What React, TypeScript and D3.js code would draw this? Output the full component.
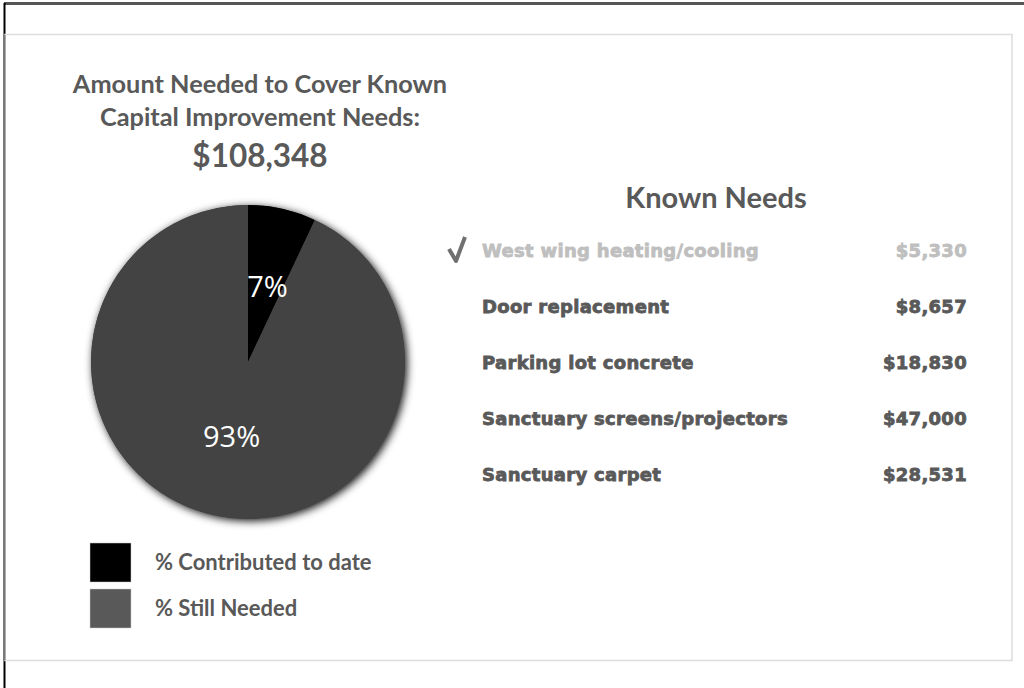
import * as d3 from 'd3'
import { useEffect } from 'react'

const sliceLabels = ['% Contributed to date', '% Still Needed']
const sliceValues = [7, 93]
const sliceColors = ['#000000', '#434343']
const legendColors = ['#000000', '#595959']

const needNames = [
  'West wing heating/cooling',
  'Door replacement',
  'Parking lot concrete',
  'Sanctuary screens/projectors',
  'Sanctuary carpet',
]
const needCosts = ['$5,330', '$8,657', '$18,830', '$47,000', '$28,531']
const needDone = [true, false, false, false, false]

const titleLines = ['Amount Needed to Cover Known', 'Capital Improvement Needs:']
const totalLabel = '$108,348'

export default function App() {
  useEffect(() => {
    document.body.style.margin = '0'
  }, [])

  const width = 1024
  const height = 688
  const cx = 248
  const cy = 362
  const r = 157

  const pie = d3.pie<number>().sort(null).value((d) => d)
  const arcs = pie(sliceValues)
  const arc = d3.arc<d3.PieArcDatum<number>>().innerRadius(0).outerRadius(r)
  const labelArc = d3.arc<d3.PieArcDatum<number>>().innerRadius(r * 0.48).outerRadius(r * 0.48)

  const rowY = d3.scalePoint<string>().domain(needNames).range([250, 474])
  const sans = 'Lato, "Open Sans", sans-serif'
  const heavy = '"DejaVu Sans", Arial, sans-serif'

  return (
    <svg width={width} height={height} style={{ display: 'block', background: '#fff' }}>
      <defs>
        <filter id="glow" x="-20%" y="-20%" width="140%" height="140%">
          <feGaussianBlur in="SourceAlpha" stdDeviation="4" />
          <feOffset dx="1.5" dy="2" result="b" />
          <feFlood floodColor="#000" floodOpacity="0.95" />
          <feComposite in2="b" operator="in" />
          <feMerge>
            <feMergeNode />
            <feMergeNode in="SourceGraphic" />
          </feMerge>
        </filter>
      </defs>

      {/* frame */}
      <line x1={4} x2={1024} y1={3.5} y2={3.5} stroke="#555" strokeWidth={3} />
      <line x1={4.5} x2={4.5} y1={3} y2={688} stroke="#000" strokeWidth={2} />
      <rect x={5} y={34.5} width={1007} height={626} fill="#fff" stroke="#ddd" strokeWidth={1.5} />
      <line x1={4.5} x2={4.5} y1={35} y2={660} stroke="#777" strokeWidth={2} />

      {/* title */}
      <g fill="#595959" fontFamily={sans} fontWeight={700} textAnchor="middle">
        {titleLines.map((t, i) => (
          <text key={t} x={260} y={93 + i * 33} fontSize={25.3}>
            {t}
          </text>
        ))}
        <text x={260} y={167} fontSize={31.5}>
          {totalLabel}
        </text>
      </g>

      {/* pie */}
      <g transform={`translate(${cx},${cy})`}>
        <circle r={r} fill="#434343" filter="url(#glow)" />
        {arcs.map((a, i) => (
          <path key={i} d={arc(a) || ''} fill={sliceColors[i]} />
        ))}
        {arcs.map((a, i) => {
          const [x, y] = labelArc.centroid(a)
          const dx = i === 0 ? 3 : 0
          const dy = i === 0 ? 9 : 11
          return (
            <text
              key={'l' + i}
              x={x + dx}
              y={y + dy}
              fill="#fff"
              fontFamily={'"Open Sans", sans-serif'}
              fontSize={29}
              textAnchor="middle"
            >
              {a.data}%
            </text>
          )
        })}
      </g>

      {/* legend */}
      {sliceLabels.map((l, i) => (
        <g key={l} transform={`translate(90,${543 + i * 46})`}>
          <rect width={41} height={39} fill={legendColors[i]} stroke="#ccc" strokeWidth={0.5} />
          <text x={65} y={27} fill="#595959" fontFamily={sans} fontWeight={700} fontSize={22}>
            {l}
          </text>
        </g>
      ))}

      {/* known needs */}
      <text x={716} y={208} fill="#595959" fontFamily={sans} fontWeight={700} fontSize={29} textAnchor="middle">
        Known Needs
      </text>
      {needNames.map((n, i) => {
        const y = rowY(n) || 0
        const col = needDone[i] ? '#bfbfbf' : '#595959'
        return (
          <g key={n}>
            {needDone[i] && (
              <path
                d={`M449,${y - 1} L456,${y + 11} L465,${y - 13}`}
                fill="none"
                stroke="#707070"
                strokeWidth={4}
                strokeLinejoin="round"
              />
            )}
            <text
              x={482}
              y={y + 7}
              fill={col}
              stroke={col}
              strokeWidth={0.8}
              fontFamily={heavy}
              fontWeight={700}
              fontSize={18}
              letterSpacing={0.3}
            >
              {n}
            </text>
            <text
              x={967}
              y={y + 7}
              fill={col}
              stroke={col}
              strokeWidth={0.8}
              fontFamily={heavy}
              fontWeight={700}
              fontSize={18}
              letterSpacing={0.3}
              textAnchor="end"
            >
              {needCosts[i]}
            </text>
          </g>
        )
      })}
    </svg>
  )
}
